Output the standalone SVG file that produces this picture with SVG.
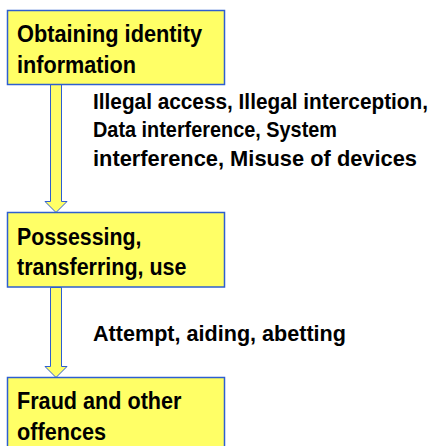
<svg xmlns="http://www.w3.org/2000/svg" width="439" height="446" viewBox="0 0 439 446">
  <style>
    .box { fill: #FFFF66; stroke: #2E5FD0; stroke-width: 1.5; }
    .arrow { fill: #FFFF66; stroke: #2E5FD0; stroke-width: 1; stroke-linejoin: miter; }
    .t { font-family: "Liberation Sans", Arial, sans-serif; font-weight: bold; font-size: 23px; fill: #000; }
    .lbl { font-family: "Liberation Sans", Arial, sans-serif; font-weight: bold; font-size: 21.5px; fill: #000; }
  </style>
  <rect width="439" height="446" fill="#FFFFFF"/>
  <g id="connectors">
    <path class="arrow" d="M50.5,84.5 L61.5,84.5 L61.5,201.5 L67,201.5 L56,212.5 L45,201.5 L50.5,201.5 Z"/>
    <path class="arrow" d="M50.5,287.5 L61.5,287.5 L61.5,366.5 L67,366.5 L56,377.5 L45,366.5 L50.5,366.5 Z"/>
    <text class="lbl" x="93" y="109" font-size="21" textLength="335" lengthAdjust="spacingAndGlyphs">Illegal access, Illegal interception,</text>
    <text class="lbl" x="93" y="137" textLength="244" lengthAdjust="spacingAndGlyphs">Data interference, System</text>
    <text class="lbl" x="93" y="166" textLength="324" lengthAdjust="spacingAndGlyphs">interference, Misuse of devices</text>
    <text class="lbl" x="93" y="341" textLength="253" lengthAdjust="spacingAndGlyphs">Attempt, aiding, abetting</text>
  </g>
  <g id="node-obtaining">
    <rect class="box" x="7.5" y="10.5" width="217" height="74"/>
    <text class="t" x="17" y="42" textLength="185" lengthAdjust="spacingAndGlyphs">Obtaining identity</text>
    <text class="t" x="17" y="73" textLength="119" lengthAdjust="spacingAndGlyphs">information</text>
  </g>
  <g id="node-possessing">
    <rect class="box" x="7.5" y="212.5" width="217" height="74.5"/>
    <text class="t" x="17" y="245" textLength="124.5" lengthAdjust="spacingAndGlyphs">Possessing,</text>
    <text class="t" x="17" y="275" textLength="169.5" lengthAdjust="spacingAndGlyphs">transferring, use</text>
  </g>
  <g id="node-fraud">
    <rect class="box" x="7.5" y="377.5" width="217" height="80"/>
    <text class="t" x="17" y="409" textLength="164.5" lengthAdjust="spacingAndGlyphs">Fraud and other</text>
    <text class="t" x="17" y="440" textLength="89" lengthAdjust="spacingAndGlyphs">offences</text>
  </g>
</svg>
